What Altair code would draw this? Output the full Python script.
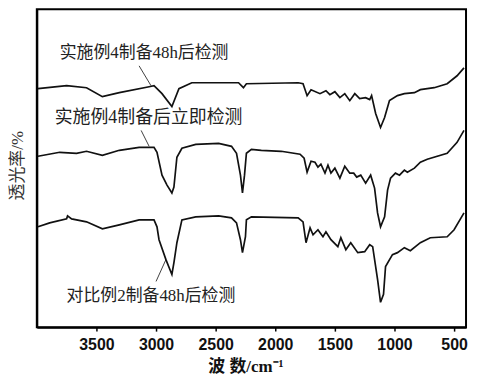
import altair as alt
import pandas as pd

# Curve 1: 实施例4制备48h后检测 (top)
wn1 = [3990, 3750, 3583, 3450, 3308, 3058, 3017, 2950, 2867, 2808, 2700, 2308, 2267, 2242,
       1808, 1767, 1733, 1700, 1625, 1575, 1542, 1500, 1458, 1417, 1375, 1333, 1292, 1242,
       1208, 1192, 1158, 1117, 1083, 1042, 975, 917, 833, 783, 667, 558, 475, 417]
t1 = [240, 243, 241, 232, 236, 242, 243, 235, 222, 240, 246, 246, 241, 245,
      246, 245, 233, 239, 235, 238, 234, 237, 231, 235, 228, 235, 230, 231,
      229, 233, 215, 201, 211, 228, 233, 235, 236, 239, 241, 245, 253, 261]

# Curve 2: 实施例4制备后立即检测 (middle)
wn2 = [3990, 3808, 3667, 3583, 3450, 3308, 3142, 3017, 2992, 2950, 2908, 2867, 2850, 2825,
       2783, 2667, 2475, 2367, 2325, 2292, 2275, 2258, 2242, 2200, 2117, 1950, 1792, 1758,
       1733, 1700, 1667, 1642, 1617, 1583, 1558, 1533, 1500, 1458, 1417, 1375, 1342, 1317,
       1283, 1242, 1200, 1167, 1142, 1117, 1083, 1058, 1033, 992, 958, 917, 892, 833, 783,
       725, 558, 475, 417]
t2 = [172, 176, 175, 177, 173, 178, 181, 181, 176, 153, 143, 135, 141, 171,
      180, 184, 185, 182, 175, 153, 135, 153, 175, 179, 178, 177, 174, 170,
      156, 167, 166, 161, 164, 155, 163, 155, 160, 150, 162, 155, 155, 151,
      153, 145, 153, 140, 115, 101, 111, 138, 150, 155, 153, 158, 156, 160, 166,
      169, 175, 186, 198]

# Curve 3: 对比例2制备48h后检测 (bottom)
wn3 = [3990, 3892, 3750, 3742, 3708, 3583, 3450, 3308, 3142, 3017, 2992, 2975, 2917, 2867,
       2850, 2825, 2783, 2667, 2475, 2367, 2325, 2292, 2275, 2250, 2242, 2200, 1808, 1767,
       1742, 1708, 1683, 1642, 1600, 1575, 1533, 1475, 1450, 1408, 1367, 1308, 1250, 1208,
       1183, 1142, 1117, 1092, 1075, 1017, 975, 917, 867, 783, 700, 558, 500, 417]
t3 = [101, 105, 109, 112, 109, 106, 99, 103, 108, 108, 101, 88, 68, 53,
      65, 85, 108, 111, 112, 110, 105, 88, 75, 91, 108, 111, 110, 106,
      85, 100, 93, 98, 91, 96, 88, 81, 90, 78, 85, 75, 76, 83,
      81, 48, 25, 33, 61, 73, 75, 80, 77, 85, 90, 91, 98, 115]

labels = ["实施例4制备48h后检测", "实施例4制备后立即检测", "对比例2制备48h后检测"]
label_wn = [3808, 3850, 3750]
label_t = [276, 210, 31]
label_size = [17, 18, 17]

# leader lines (start -> end)
lead_wn = [3142, 3125, 3000]
lead_t = [263, 198, 46]
lead_wn2 = [3042, 3058, 2917]
lead_t2 = [243, 182, 68]

tick_vals = [3750, 3500, 3250, 3000, 2750, 2500, 2250, 2000, 1750, 1500, 1250, 1000, 750, 500]

rows = []
for name, w, t in zip(labels, [wn1, wn2, wn3], [t1, t2, t3]):
    for a, b in zip(w, t):
        rows.append({"series": name, "wn": a, "t": b})
df = pd.DataFrame(rows)

lab_df = pd.DataFrame({"label": labels, "wn": label_wn, "t": label_t, "size": label_size})
lead_df = pd.DataFrame({"wn": lead_wn, "t": lead_t, "wn2": lead_wn2, "t2": lead_t2})

xscale = alt.Scale(domain=[400, 4000], reverse=True, nice=False, zero=False)
yscale = alt.Scale(domain=[0, 320], nice=False, zero=False)

xaxis = alt.Axis(
    values=tick_vals, format="d",
    labelExpr="datum.value % 500 == 0 ? datum.label : ''",
    title="波 数/cm⁻¹", titleFont="Liberation Serif, Noto Sans CJK SC",
    titleFontSize=17, titleFontWeight="bold", titleColor="#111",
    titleX=210, titleY=40, titleBaseline="middle", titleAnchor="middle",
    labelFont="Liberation Sans", labelFontSize=16, labelFontWeight="bold",
    labelColor="#111", labelPadding=6, labelOverlap=False, labelFlush=False,
    tickSize=4, tickColor="#000", tickWidth=1.5, ticks=True,
    domainColor="#000", domainWidth=2, grid=False,
)
yaxis = alt.Axis(
    title="透光率/%", titleFont="Liberation Serif, Noto Sans CJK SC",
    titleFontSize=17, titleFontWeight="normal", titleColor="#333",
    titleX=-19, titleY=157, titleAngle=-90, titleBaseline="middle", titleAnchor="middle",
    labels=False, ticks=False, domainColor="#000", domainWidth=2, grid=False,
)

lines = alt.Chart(df).mark_line(color="#111", strokeWidth=1.7).encode(
    x=alt.X("wn:Q", scale=xscale, axis=xaxis),
    y=alt.Y("t:Q", scale=yscale, axis=yaxis),
    detail="series:N",
    order="wn:Q",
)

leads = alt.Chart(lead_df).mark_rule(color="#111", strokeWidth=0.8).encode(
    x=alt.X("wn:Q", scale=xscale), y=alt.Y("t:Q", scale=yscale),
    x2="wn2:Q", y2="t2:Q",
)

texts = alt.Chart(lab_df).mark_text(
    align="left", baseline="middle", font="Liberation Serif, Noto Sans CJK SC", color="#222"
).encode(
    x=alt.X("wn:Q", scale=xscale), y=alt.Y("t:Q", scale=yscale),
    text="label:N",
    size=alt.Size("size:Q", scale=None, legend=None),
)

chart = alt.layer(lines, leads, texts).properties(
    width=432, height=320,
    autosize=alt.AutoSizeParams(type="none"),
    padding={"left": 29, "top": 0, "right": 4, "bottom": 56},
    background="white",
).configure_view(stroke="#000", strokeWidth=2)

chart.save("out.html", embed_options={"renderer": "svg", "actions": False})
